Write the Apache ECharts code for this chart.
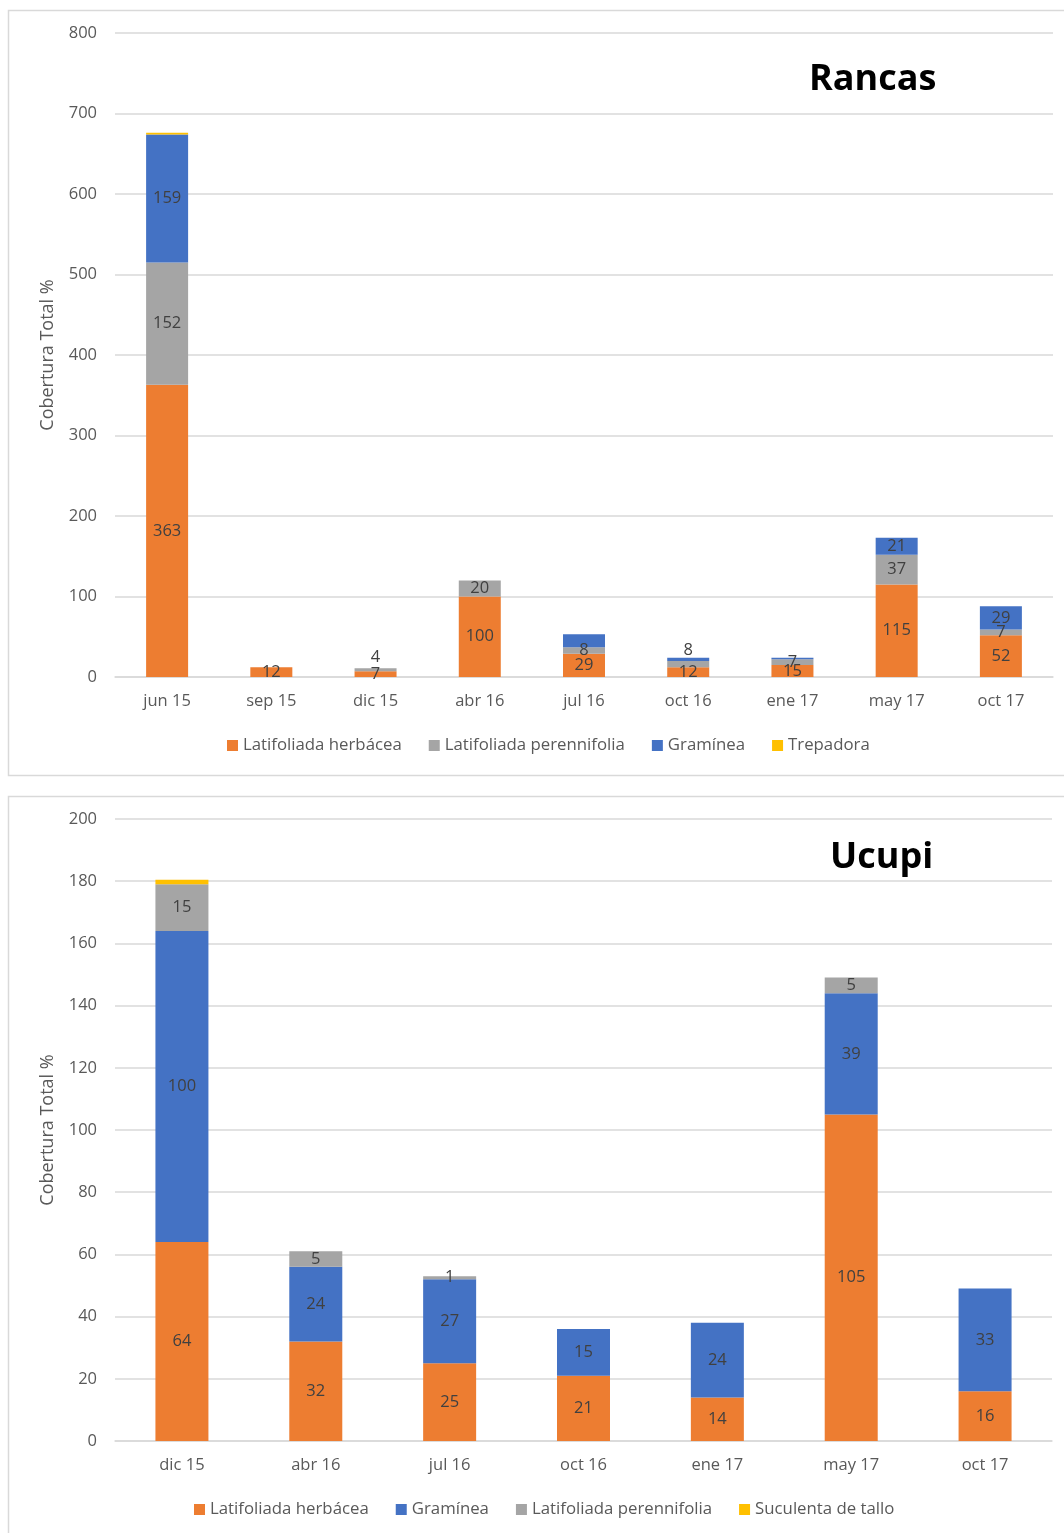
<!DOCTYPE html>
<html>
<head>
<meta charset="utf-8">
<title>Cobertura Total % – Rancas y Ucupi</title>
<script src="https://cdn.jsdelivr.net/npm/echarts@6/dist/echarts.min.js"></script>
<style>
  html, body { margin: 0; padding: 0; background: #fff; }
  #chart { width: 1064px; height: 1533px; }
</style>
</head>
<body>
<div id="chart"></div>
<script>
// Rancas
const catsRancas = ['jun 15', 'sep 15', 'dic 15', 'abr 16', 'jul 16', 'oct 16', 'ene 17', 'may 17', 'oct 17'];
const herbRancas = [363, 12, 7, 100, 29, 12, 15, 115, 52];
const perenRancas = [152, 0, 4, 20, 8, 8, 7, 37, 7];
const gramRancas = [159, 0, 0, 0, 16, 4, 2, 21, 29];
const trepRancas = [2, 0, 0, 0, 0, 0, 0, 0, 0];
const ticksRancas = [0, 100, 200, 300, 400, 500, 600, 700, 800];

// Ucupi
const catsUcupi = ['dic 15', 'abr 16', 'jul 16', 'oct 16', 'ene 17', 'may 17', 'oct 17'];
const herbUcupi = [64, 32, 25, 21, 14, 105, 16];
const gramUcupi = [100, 24, 27, 15, 24, 39, 33];
const perenUcupi = [15, 5, 1, 0, 0, 5, 0];
const sucUcupi = [1.5, 0, 0, 0, 0, 0, 0];
const ticksUcupi = [0, 20, 40, 60, 80, 100, 120, 140, 160, 180, 200];

const C_HERB = '#ED7D31', C_PEREN = '#A5A5A5', C_GRAM = '#4472C4', C_YEL = '#FFC000';
const FONT = 'Open Sans';
const FS = 16.5;

// Build bar data; segments listed in `hidden` carry no label, those in `above` sit over the bar.
function items(values, hidden, above) {
  return values.map((v, i) => {
    const it = { value: v };
    if (v === 0 || (hidden && hidden.includes(i))) it.label = { show: false };
    else if (above && above.includes(i)) it.label = { position: 'top', distance: 2 };
    return it;
  });
}

function barSeries(name, color, data, axisIdx, width) {
  return {
    name, type: 'bar', stack: 's' + axisIdx,
    xAxisIndex: axisIdx, yAxisIndex: axisIdx,
    barWidth: width,
    itemStyle: { color },
    label: {
      show: true, position: 'inside', color: '#404040',
      fontFamily: FONT, fontSize: FS,
      formatter: p => Math.round(p.value)
    },
    data
  };
}

const axisText = { color: '#595959', fontFamily: FONT, fontSize: FS };
const nameText = { color: '#595959', fontFamily: FONT, fontSize: 18 };
const legendText = { color: '#595959', fontFamily: FONT, fontSize: 16.8 };

const option = {
  animation: false,
  textStyle: { fontFamily: FONT },
  graphic: [
    { type: 'rect', shape: { x: 8.5, y: 10.5, width: 1100, height: 765 },
      style: { fill: 'none', stroke: '#d9d9d9', lineWidth: 1.5 }, silent: true },
    { type: 'rect', shape: { x: 8.5, y: 796.5, width: 1100, height: 800 },
      style: { fill: 'none', stroke: '#d9d9d9', lineWidth: 1.5 }, silent: true }
  ],
  title: [
    { text: 'Rancas', left: 804, top: 57,
      textStyle: { fontFamily: FONT, fontWeight: 'bold', fontSize: 36, color: '#000' } },
    { text: 'Ucupi', left: 825, top: 835,
      textStyle: { fontFamily: FONT, fontWeight: 'bold', fontSize: 36, color: '#000' } }
  ],
  legend: [
    { data: ['Latifoliada herbácea', 'Latifoliada perennifolia', 'Gramínea', 'Trepadora'],
      left: 222, top: 732, icon: 'rect', itemWidth: 11, itemHeight: 11, itemGap: 27,
      textStyle: legendText },
    { data: ['Latifoliada herbácea', 'Gramínea', 'Latifoliada perennifolia', 'Suculenta de tallo'],
      left: 189, top: 1496, icon: 'rect', itemWidth: 11, itemHeight: 11, itemGap: 27,
      textStyle: legendText }
  ],
  grid: [
    { left: 115, top: 33, width: 938, height: 644 },
    { left: 115, top: 819, width: 937, height: 622 }
  ],
  xAxis: [
    { type: 'category', gridIndex: 0, data: catsRancas,
      axisLine: { lineStyle: { color: '#d9d9d9', width: 1.5 } }, axisTick: { show: false },
      axisLabel: Object.assign({ margin: 16 }, axisText) },
    { type: 'category', gridIndex: 1, data: catsUcupi,
      axisLine: { lineStyle: { color: '#d9d9d9', width: 1.5 } }, axisTick: { show: false },
      axisLabel: Object.assign({ margin: 16 }, axisText) }
  ],
  yAxis: [
    { type: 'value', gridIndex: 0, min: ticksRancas[0], max: ticksRancas[ticksRancas.length - 1],
      interval: ticksRancas[1] - ticksRancas[0],
      name: 'Cobertura Total %', nameLocation: 'middle', nameGap: 58, nameRotate: 90,
      nameTextStyle: nameText,
      axisLine: { show: false }, axisTick: { show: false },
      axisLabel: Object.assign({ margin: 18 }, axisText),
      splitLine: { lineStyle: { color: '#d9d9d9', width: 1.5 } } },
    { type: 'value', gridIndex: 1, min: ticksUcupi[0], max: ticksUcupi[ticksUcupi.length - 1],
      interval: ticksUcupi[1] - ticksUcupi[0],
      name: 'Cobertura Total %', nameLocation: 'middle', nameGap: 58, nameRotate: 90,
      nameTextStyle: nameText,
      axisLine: { show: false }, axisTick: { show: false },
      axisLabel: Object.assign({ margin: 18 }, axisText),
      splitLine: { lineStyle: { color: '#d9d9d9', width: 1.5 } } }
  ],
  series: [
    barSeries('Latifoliada herbácea', C_HERB, items(herbRancas), 0, 42),
    barSeries('Latifoliada perennifolia', C_PEREN, items(perenRancas, [], [2, 5]), 0, 42),
    barSeries('Gramínea', C_GRAM, items(gramRancas, [4, 5, 6]), 0, 42),
    barSeries('Trepadora', C_YEL, items(trepRancas, [0]), 0, 42),

    barSeries('Latifoliada herbácea', C_HERB, items(herbUcupi), 1, 53),
    barSeries('Gramínea', C_GRAM, items(gramUcupi), 1, 53),
    barSeries('Latifoliada perennifolia', C_PEREN, items(perenUcupi), 1, 53),
    barSeries('Suculenta de tallo', C_YEL, items(sucUcupi, [0]), 1, 53)
  ]
};

const chart = echarts.init(document.getElementById('chart'), null, { renderer: 'canvas' });
chart.setOption(option);
</script>
</body>
</html>
